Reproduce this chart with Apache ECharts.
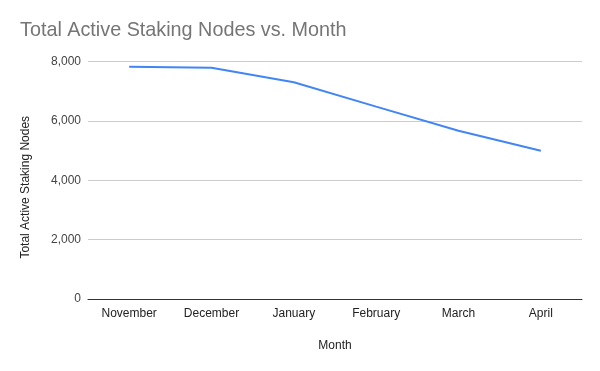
<!DOCTYPE html>
<html>
<head>
<meta charset="utf-8">
<script src="https://cdn.jsdelivr.net/npm/echarts@6/dist/echarts.min.js"></script>
<style>html,body{margin:0;padding:0;background:#fff;}#c{width:600px;height:371px;}</style>
</head>
<body>
<div id="c"></div>
<script>
var months = ["November", "December", "January", "February", "March", "April"];
var nodes = [7825, 7790, 7300, 6480, 5670, 4995];
var yTicks = [0, 2000, 4000, 6000, 8000];

var chart = echarts.init(document.getElementById('c'), null, {renderer: 'canvas'});
chart.setOption({
  animation: false,
  backgroundColor: '#ffffff',
  title: {
    text: 'Total Active Staking Nodes vs. Month',
    left: 20, top: 21, padding: 0,
    textStyle: {fontFamily: 'Liberation Sans, Arial', fontSize: 19.8, fontWeight: 'normal', color: '#757575'}
  },
  grid: {left: 88, right: 18, top: 61.5, bottom: 72, containLabel: false},
  xAxis: {
    type: 'category',
    data: months,
    boundaryGap: true,
    name: 'Month',
    nameLocation: 'middle',
    nameGap: 41,
    nameTextStyle: {fontFamily: 'Liberation Sans, Arial', fontSize: 12, color: '#222'},
    axisLine: {show: true, lineStyle: {color: '#333', width: 1}},
    axisTick: {show: false},
    axisLabel: {fontFamily: 'Liberation Sans, Arial', fontSize: 12, color: '#222', margin: 9, interval: 0}
  },
  yAxis: {
    type: 'value',
    min: yTicks[0], max: yTicks[yTicks.length - 1], interval: 2000,
    name: 'Total Active Staking Nodes',
    nameLocation: 'middle',
    nameGap: 56,
    nameTextStyle: {fontFamily: 'Liberation Sans, Arial', fontSize: 12, color: '#222', padding: [0, 14, 0, 0]},
    axisLine: {show: false},
    axisTick: {show: false},
    splitLine: {lineStyle: {color: '#cccccc', width: 1}},
    axisLabel: {
      fontFamily: 'Liberation Sans, Arial', fontSize: 12, color: '#444', margin: 7,
      formatter: function (v) { return v.toLocaleString('en-US'); }
    }
  },
  series: [{
    type: 'line',
    data: nodes,
    smooth: false,
    showSymbol: false,
    lineStyle: {color: '#4285f4', width: 2},
    itemStyle: {color: '#4285f4'}
  }]
});
</script>
</body>
</html>
